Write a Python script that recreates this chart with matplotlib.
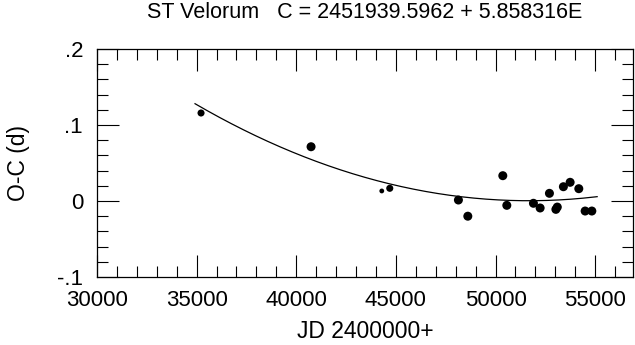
import numpy as np
import matplotlib
matplotlib.use('Agg')
import matplotlib.pyplot as plt
from matplotlib.ticker import MultipleLocator, FuncFormatter

# O-C data for ST Vel (JD - 2400000, O-C in days, weight)
jd = [35221, 40743, 44292, 44693, 48138, 48610, 50366, 50567,
      51903, 52239, 52706, 53030, 53100, 53407, 53745, 54180,
      54498, 54834]
oc = [0.1158, 0.0714, 0.0132, 0.0167, 0.0013, -0.0200, 0.0333, -0.0057,
      -0.0030, -0.0092, 0.0101, -0.0110, -0.0080, 0.0188, 0.0246, 0.0162,
      -0.0132, -0.0132]
weight = [2, 3, 1, 2, 3, 3, 3, 3,
          3, 3, 3, 3, 3, 3, 3, 3,
          3, 3]

# quadratic fit: oc = a + b*u + c*u^2, u = (jd - 45000)/10000
fit_a, fit_b, fit_c = 0.0206, -0.0607, 0.0455
fit_start, fit_end = 34920, 55100

plt.rcParams['font.family'] = ['Liberation Sans', 'DejaVu Sans']

fig = plt.figure(figsize=(6.35, 3.45), dpi=100)
ax = fig.add_axes([97/635, 1-277/345, (633-97)/635, (277-49)/345])

u = (np.linspace(fit_start, fit_end, 200) - 45000) / 10000
ax.plot(u*10000 + 45000, fit_a + fit_b*u + fit_c*u**2, color='black', lw=0.9)

sizes = {1: 12, 2: 26, 3: 42}
ax.scatter(jd, oc, s=[sizes[w] for w in weight], color='black', linewidths=0, zorder=3)

ax.set_xlim(30000, 56900)
ax.set_ylim(-0.1, 0.2)
ax.xaxis.set_major_locator(MultipleLocator(5000))
ax.xaxis.set_minor_locator(MultipleLocator(1000))
ax.yaxis.set_major_locator(MultipleLocator(0.1))
ax.yaxis.set_minor_locator(MultipleLocator(0.02))

def yfmt(v, pos):
    if abs(v) < 1e-9:
        return '0'
    s = '%.1f' % v
    return s.replace('0.', '.')
ax.yaxis.set_major_formatter(FuncFormatter(yfmt))

ax.tick_params(which='both', direction='in', top=True, right=True, width=0.8, labelsize=16)
ax.tick_params(which='major', length=15.5)
ax.tick_params(which='minor', length=8)
ax.tick_params(axis='x', pad=9)
ax.tick_params(axis='y', pad=10)
for sp in ax.spines.values():
    sp.set_linewidth(0.9)

ax.set_xlabel('JD 2400000+', fontsize=16.5, va='center')
ax.xaxis.set_label_coords(0.5, (277-332)/228)
ax.set_ylabel('O-C (d)', fontsize=16.5, va='center', ha='center')
ax.yaxis.set_label_coords((18-97)/536, 0.5)
fig.text(365/635, 1-18/345, 'ST Velorum   C = 2451939.5962 + 5.858316E',
         fontsize=15.5, ha='center', va='baseline')

fig.savefig('out.png', dpi=100)
